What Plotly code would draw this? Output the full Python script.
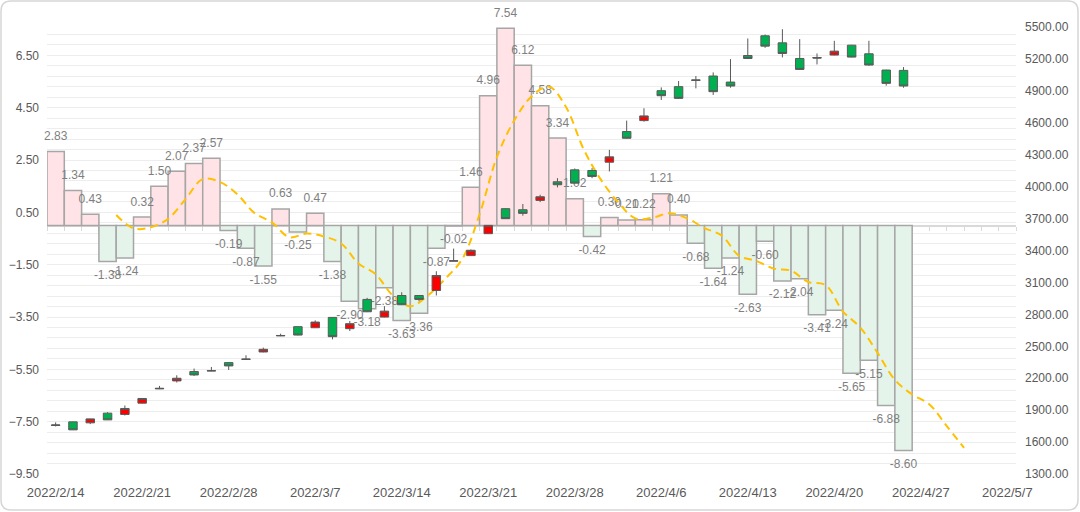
import plotly.graph_objects as go

# ---------------- data ----------------
dates = [
    "2022/2/14", "2022/2/15", "2022/2/16", "2022/2/17", "2022/2/18",
    "2022/2/21", "2022/2/22", "2022/2/23", "2022/2/24", "2022/2/25",
    "2022/2/28", "2022/3/1", "2022/3/2", "2022/3/3", "2022/3/4",
    "2022/3/7", "2022/3/8", "2022/3/9", "2022/3/10", "2022/3/11",
    "2022/3/14", "2022/3/15", "2022/3/16", "2022/3/17", "2022/3/18",
    "2022/3/21", "2022/3/22", "2022/3/23", "2022/3/24", "2022/3/25",
    "2022/3/28", "2022/3/29", "2022/3/30", "2022/3/31", "2022/4/1",
    "2022/4/6", "2022/4/7", "2022/4/8", "2022/4/11", "2022/4/12",
    "2022/4/13", "2022/4/14", "2022/4/15", "2022/4/18", "2022/4/19",
    "2022/4/20", "2022/4/21", "2022/4/22", "2022/4/25", "2022/4/26",
    "2022/4/27", "2022/4/28", "2022/4/29", "2022/5/5", "2022/5/6",
    "2022/5/7",
]

bar_values = [
    2.83, 1.34, 0.43, -1.38, -1.24, 0.32, 1.50, 2.07, 2.37, 2.57,
    -0.19, -0.87, -1.55, 0.63, -0.25, 0.47, -1.38, -2.90, -3.18, -2.38,
    -3.63, -3.36, -0.87, -0.02, 1.46, 4.96, 7.54, 6.12, 4.58, 3.34,
    1.02, -0.42, 0.30, 0.21, 0.22, 1.21, 0.40, -0.68, -1.64, -1.24,
    -2.63, -0.60, -2.12, -2.04, -3.41, -3.24, -5.65, -5.15, -6.88, -8.60,
]

# moving-average line (left axis), first point at category 4
ma_start = 4
ma_values = [
    0.40, -0.11, -0.07, 0.25, 1.00, 1.77, 1.66, 1.19, 0.47, 0.12,
    -0.45, -0.31, -0.42, -0.69, -1.45, -1.87, -2.69, -3.09, -2.68, -2.05,
    -1.28, 0.43, 2.61, 4.01, 4.93, 5.31, 4.52, 2.93, 1.76, 0.89,
    0.27, 0.30, 0.47, 0.27, -0.10, -0.39, -1.16, -1.36, -1.65, -1.73,
    -2.16, -2.28, -3.29, -3.90, -4.87, -5.90, -6.46, -6.84, -7.67, -8.50,
]

k_open = [
    1756, 1790, 1781, 1872, 1860, 1966, 2100, 2175, 2263, 2268,
    2347, 2377, 2447, 2598, 2685, 2675, 2772, 2666, 2941, 2775,
    2978, 2978, 3025, 3300, 3353, 3559, 3794, 3784, 3872, 4047,
    4159, 4153, 4231, 4519, 4622, 4903, 4941, 5005, 5041, 4984,
    5234, 5419, 5353, 5206, 5215, 5238, 5331, 5250, 5097, 5094,
]
k_close = [
    1761, 1715, 1818, 1809, 1916, 2010, 2105, 2200, 2231, 2271,
    2316, 2380, 2472, 2602, 2606, 2728, 2591, 2713, 2825, 2831,
    2891, 2941, 3166, 3305, 3403, 3637, 3700, 3750, 3906, 4019,
    4034, 4097, 4281, 4456, 4666, 4856, 4831, 5000, 4894, 4947,
    5206, 5322, 5253, 5103, 5210, 5275, 5219, 5144, 4972, 4947,
]
k_high = [
    1785, 1792, 1820, 1881, 1944, 2013, 2128, 2228, 2291, 2306,
    2350, 2416, 2488, 2619, 2688, 2744, 2775, 2738, 2956, 2878,
    3009, 2981, 3206, 3419, 3410, 3640, 3797, 3838, 3925, 4081,
    4172, 4175, 4347, 4622, 4738, 4934, 4994, 5041, 5075, 5200,
    5394, 5431, 5481, 5388, 5253, 5372, 5334, 5372, 5100, 5125,
]
k_low = [
    1747, 1713, 1769, 1807, 1850, 1963, 2098, 2160, 2222, 2266,
    2278, 2375, 2444, 2596, 2603, 2672, 2566, 2644, 2822, 2772,
    2888, 2925, 2978, 3300, 3350, 3556, 3697, 3728, 3856, 3994,
    4031, 4081, 4144, 4453, 4612, 4816, 4828, 4925, 4863, 4931,
    5203, 5306, 5216, 5100, 5150, 5235, 5216, 5138, 4950, 4931,
]

left_range = [-9.5, 7.7]
right_range = [1300, 5530]

# ---------------- figure ----------------
idx = list(range(len(bar_values)))
n_cat = len(dates)

pos_fill = "#FFE3E6"
neg_fill = "#E4F4EA"
bar_colors = [pos_fill if v >= 0 else neg_fill for v in bar_values]

fig = go.Figure()

fig.add_trace(go.Bar(
    x=idx, y=bar_values, width=1.0,
    marker=dict(color=bar_colors, line=dict(color="#A6A6A6", width=1.5)),
    xaxis="x", yaxis="y", hoverinfo="skip",
))

fig.add_trace(go.Scatter(
    x=idx, y=bar_values, mode="markers+text",
    text=[f"{v:.2f}" for v in bar_values],
    textposition=["top center" if v >= 0 else "bottom center" for v in bar_values],
    textfont=dict(family="Liberation Sans", size=12, color="#7F7F7F"),
    marker=dict(size=12, opacity=0),
    xaxis="x", yaxis="y", hoverinfo="skip", cliponaxis=False,
))

# Line sits on category boundaries ("on tick marks" positioning)
ma_x = [ma_start + i - 0.5 for i in range(len(ma_values))]
fig.add_trace(go.Scatter(
    x=ma_x, y=ma_values, mode="lines",
    line=dict(color="#FFC000", width=2, dash="8px,5px", shape="spline", smoothing=1.0),
    xaxis="x", yaxis="y", hoverinfo="skip",
))

# dummy trace for the zero-line category axis
fig.add_trace(go.Scatter(x=[], y=[], xaxis="x3", yaxis="y", hoverinfo="skip"))

fig.add_trace(go.Candlestick(
    x=idx, open=k_open, high=k_high, low=k_low, close=k_close,
    increasing=dict(fillcolor="#FF0000", line=dict(color="#595959", width=1)),
    decreasing=dict(fillcolor="#00B050", line=dict(color="#595959", width=1)),
    xaxis="x", yaxis="y2", hoverinfo="skip",
))

L, R, T, B = 47, 64, 24, 38
W, H = 1080, 512
pw, ph = W - L - R, H - T - B

def pxx(x):
    return (x - L) / pw

def pxy(y):
    return (H - B - y) / ph

x0b, x1b, y0b, y1b, rr = 1, 1078, 1, 510, 10
border_path = (
    f"M {pxx(x0b + rr)},{pxy(y0b)} L {pxx(x1b - rr)},{pxy(y0b)} "
    f"Q {pxx(x1b)},{pxy(y0b)} {pxx(x1b)},{pxy(y0b + rr)} "
    f"L {pxx(x1b)},{pxy(y1b - rr)} Q {pxx(x1b)},{pxy(y1b)} {pxx(x1b - rr)},{pxy(y1b)} "
    f"L {pxx(x0b + rr)},{pxy(y1b)} Q {pxx(x0b)},{pxy(y1b)} {pxx(x0b)},{pxy(y1b - rr)} "
    f"L {pxx(x0b)},{pxy(y0b + rr)} Q {pxx(x0b)},{pxy(y0b)} {pxx(x0b + rr)},{pxy(y0b)} Z"
)

zero_pos = (0 - left_range[0]) / (left_range[1] - left_range[0])

fig.update_layout(
    width=W, height=H,
    margin=dict(l=L, r=R, t=T, b=B, autoexpand=False),
    paper_bgcolor="white", plot_bgcolor="white",
    showlegend=False, hovermode=False,
    bargap=0,
    font=dict(family="Liberation Sans", size=12, color="#595959"),
    xaxis=dict(
        range=[-0.5, n_cat - 0.5],
        tickmode="array",
        tickvals=list(range(0, n_cat, 5)),
        ticktext=dates[::5],
        tickfont=dict(size=13, color="#595959"),
        showgrid=False, zeroline=False, showline=False, ticks="",
        rangeslider=dict(visible=False),
        ticklabelstandoff=9,
        automargin=False,
    ),
    xaxis3=dict(
        overlaying="x", anchor="free", position=zero_pos,
        range=[-0.5, n_cat - 0.5],
        tickmode="array",
        tickvals=[i - 0.5 for i in range(n_cat + 1)],
        ticks="outside", ticklen=4, tickcolor="#D9D9D9", tickwidth=1,
        showticklabels=False, showgrid=False, zeroline=False,
        showline=True, linecolor="#D9D9D9", linewidth=1.5,
        layer="below traces",
    ),
    yaxis=dict(
        range=left_range,
        tickmode="linear", tick0=left_range[0], dtick=2,
        tickformat=".2f",
        showgrid=True, gridcolor="#EDEDED", gridwidth=1,
        minor=dict(tick0=left_range[0], dtick=0.4, showgrid=True,
                   gridcolor="#EDEDED", gridwidth=1),
        zeroline=False, showline=False, ticks="",
        tickfont=dict(size=12, color="#595959"),
        ticklabelstandoff=7,
        automargin=False,
    ),
    yaxis2=dict(
        range=right_range, overlaying="y", side="right",
        tickmode="linear", tick0=right_range[0], dtick=300,
        tickformat=".2f",
        showgrid=False, zeroline=False, showline=False, ticks="",
        tickfont=dict(size=12, color="#595959"),
        ticklabelstandoff=8,
        automargin=False,
    ),
    shapes=[dict(type="path", xref="paper", yref="paper", path=border_path,
                 line=dict(color="#D6D6D6", width=1.5), layer="below")],
)

fig.write_html(
    "out.html",
    config={"displayModeBar": False, "staticPlot": True},
    post_script="document.body.style.margin='0';document.body.style.overflow='hidden';",
)
